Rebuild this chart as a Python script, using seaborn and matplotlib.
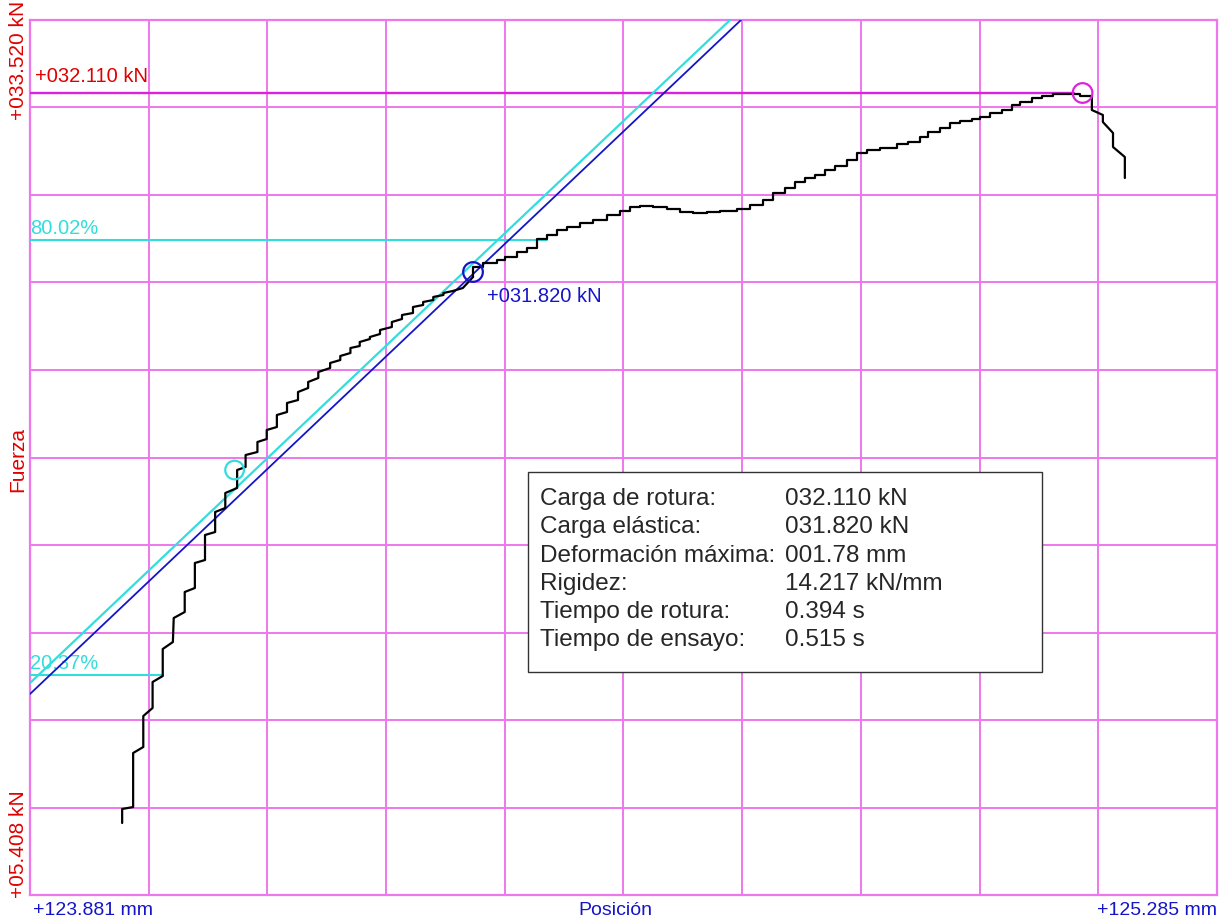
import matplotlib
matplotlib.use('Agg')
import numpy as np
import matplotlib.pyplot as plt
import seaborn as sns
from matplotlib.patches import Rectangle

# axis range: position (mm) and force (kN)
x_range = [123.881, 125.285]
y_range = [5.408, 33.52]

# black test curve, lower part (stair corners)
pos_lo = [123.990, 123.990, 124.003, 124.003, 124.015, 124.015, 124.026, 124.026, 124.038, 124.038,
          124.050, 124.051, 124.064, 124.064, 124.076, 124.076, 124.088, 124.088, 124.100, 124.100,
          124.112, 124.112, 124.126, 124.126, 124.136, 124.136, 124.150, 124.150, 124.161, 124.161,
          124.173, 124.173, 124.185, 124.185, 124.198, 124.198, 124.210, 124.210, 124.222, 124.222,
          124.236, 124.236, 124.248, 124.248, 124.260, 124.260, 124.271, 124.271, 124.283, 124.283,
          124.295, 124.295, 124.309, 124.309, 124.321, 124.321, 124.334, 124.334, 124.346, 124.346,
          124.358, 124.358, 124.370, 124.370, 124.381, 124.393, 124.405]
force_lo = [7.721, 8.171, 8.235, 9.970, 10.163, 11.159, 11.416, 12.251, 12.444, 13.311,
            13.536, 14.307, 14.500, 15.143, 15.271, 16.074, 16.171, 16.974, 17.070, 17.713,
            17.842, 18.323, 18.484, 19.062, 19.159, 19.544, 19.641, 19.962, 20.058, 20.348,
            20.444, 20.829, 20.926, 21.215, 21.311, 21.568, 21.697, 21.890, 22.018, 22.211,
            22.339, 22.500, 22.596, 22.725, 22.821, 22.982, 23.046, 23.175, 23.271, 23.335,
            23.432, 23.560, 23.657, 23.817, 23.914, 24.042, 24.107, 24.299, 24.364, 24.460,
            24.524, 24.621, 24.685, 24.749, 24.813, 24.910, 25.263]

# upper part (sampled, drawn as steps)
pos_hi = [124.405, 124.417, 124.433, 124.443, 124.457, 124.469, 124.481, 124.493, 124.504, 124.516,
          124.532, 124.547, 124.563, 124.579, 124.591, 124.603, 124.618, 124.634, 124.650, 124.665,
          124.682, 124.697, 124.717, 124.733, 124.748, 124.760, 124.774, 124.786, 124.798, 124.810,
          124.821, 124.833, 124.847, 124.859, 124.871, 124.886, 124.906, 124.920, 124.934, 124.943,
          124.957, 124.969, 124.981, 124.995, 125.005, 125.016, 125.031, 125.043, 125.052, 125.066,
          125.078, 125.091, 125.108, 125.123, 125.137]
force_hi = [25.263, 25.584, 25.713, 25.809, 25.906, 26.066, 26.195, 26.484, 26.612, 26.773,
            26.870, 26.998, 27.094, 27.255, 27.384, 27.512, 27.544, 27.512, 27.448, 27.351,
            27.319, 27.351, 27.384, 27.448, 27.576, 27.737, 27.962, 28.122, 28.315, 28.444,
            28.540, 28.701, 28.829, 29.022, 29.247, 29.343, 29.408, 29.536, 29.600, 29.761,
            29.922, 30.050, 30.211, 30.275, 30.339, 30.404, 30.532, 30.628, 30.789, 30.886,
            31.014, 31.078, 31.143, 31.143, 31.078]

# after rupture
pos_drop = [125.137, 125.137, 125.150, 125.150, 125.162, 125.162, 125.176, 125.176]
force_drop = [31.078, 30.628, 30.468, 30.243, 29.890, 29.440, 29.118, 28.444]

# stiffness lines
blue_line_x = [123.881, 124.722]
blue_line_y = [11.866, 33.52]
cyan_line_x = [123.881, 124.709]
cyan_line_y = [12.219, 33.52]

max_load = 31.175
max_load_end = 125.116
peak_x, peak_y = 125.126, 31.175
yield_x, yield_y = 124.405, 25.424
start_x, start_y = 124.123, 19.062

pct_labels = ['80.02%', '20.37%']
pct_y = [26.452, 12.476]
pct_end = [124.493, 124.038]

info_labels = ['Carga de rotura:', 'Carga elástica:', 'Deformación máxima:', 'Rigidez:',
               'Tiempo de rotura:', 'Tiempo de ensayo:']
info_values = ['032.110 kN', '031.820 kN', '001.78 mm', '14.217 kN/mm', '0.394 s', '0.515 s']

grid_c = '#ee77ee'
red = '#e00000'
blue = '#1515c8'
cyan = '#33dddd'

sns.set_style('white')
plt.rcParams['font.family'] = ['Liberation Sans', 'DejaVu Sans']

fig = plt.figure(figsize=(12.28, 9.19), dpi=100)
ax = fig.add_axes([0.02443, 0.02611, 0.96661, 0.95213])
ax.set_xlim(x_range)
ax.set_ylim(y_range)
ax.set_xticks(np.linspace(x_range[0], x_range[1], 11))
ax.set_yticks(np.linspace(y_range[0], y_range[1], 11))
ax.tick_params(length=0, labelbottom=False, labelleft=False)
ax.grid(True, color=grid_c, lw=1.4)
ax.set_axisbelow(True)
for s in ax.spines.values():
    s.set_color(grid_c)
    s.set_linewidth(1.6)
ax.set_xlabel('')
ax.set_ylabel('')

# horizontal reference lines
ax.plot([x_range[0], max_load_end], [max_load, max_load], color='#dd22dd', lw=1.7, zorder=3)
for lab, yv, xe in zip(pct_labels, pct_y, pct_end):
    ax.plot([x_range[0], xe], [yv, yv], color=cyan, lw=1.5, zorder=3)

# stiffness lines
sns.lineplot(x=cyan_line_x, y=cyan_line_y, color=cyan, lw=1.6, ax=ax, zorder=4)
sns.lineplot(x=blue_line_x, y=blue_line_y, color=blue, lw=1.3, ax=ax, zorder=4)

# test curve
kw = dict(color='black', lw=1.6, sort=False, estimator=None, ax=ax, zorder=5)
sns.lineplot(x=pos_lo, y=force_lo, **kw)
sns.lineplot(x=pos_hi, y=force_hi, drawstyle='steps-pre', **kw)
sns.lineplot(x=pos_drop, y=force_drop, **kw)

# markers
ax.scatter([peak_x], [peak_y], s=200, facecolors='none', edgecolors='#dd22dd', lw=1.6, zorder=6)
ax.scatter([yield_x], [yield_y], s=200, facecolors='none', edgecolors=blue, lw=1.6, zorder=6)
ax.scatter([start_x], [start_y], s=180, facecolors='none', edgecolors=cyan, lw=1.6, zorder=6)

# annotations
fs = 14.5
ax.text(0.004, 0.924, '+032.110 kN', color=red, fontsize=fs, transform=ax.transAxes,
        ha='left', va='bottom')
ax.text(0.385, 0.673, '+031.820 kN', color=blue, fontsize=fs, transform=ax.transAxes,
        ha='left', va='bottom')
ax.text(0.0, 0.751, pct_labels[0], color=cyan, fontsize=fs, transform=ax.transAxes,
        ha='left', va='bottom')
ax.text(0.0, 0.2537, pct_labels[1], color=cyan, fontsize=fs, transform=ax.transAxes,
        ha='left', va='bottom')

# info box
ax.add_patch(Rectangle((0.4195, 0.2549), 0.4331, 0.2285, transform=ax.transAxes,
                       facecolor='white', edgecolor='#333333', lw=1.0, zorder=7))
for i, (lab, val) in enumerate(zip(info_labels, info_values)):
    yy = 0.4457 - i * 0.0323
    ax.text(0.4296, yy, lab, fontsize=17.5, transform=ax.transAxes, va='baseline', zorder=8)
    ax.text(0.636, yy, val, fontsize=17.5, transform=ax.transAxes, va='baseline', zorder=8)

# axis end labels
fig.text(0.0269, 0.0044, '+123.881 mm', color=blue, fontsize=14, ha='left', va='baseline')
fig.text(0.991, 0.0044, '+125.285 mm', color=blue, fontsize=14, ha='right', va='baseline')
fig.text(0.5008, 0.0044, 'Posición', color=blue, fontsize=14, ha='center', va='baseline')
fig.text(0.0147, 0.934, '+033.520 kN', color=red, fontsize=15, rotation=90, ha='center', va='center')
fig.text(0.0147, 0.0816, '+05.408 kN', color=red, fontsize=15, rotation=90, ha='center', va='center')
fig.text(0.0147, 0.4995, 'Fuerza', color=red, fontsize=15, rotation=90, ha='center', va='center')

fig.savefig('out.png', dpi=100)
